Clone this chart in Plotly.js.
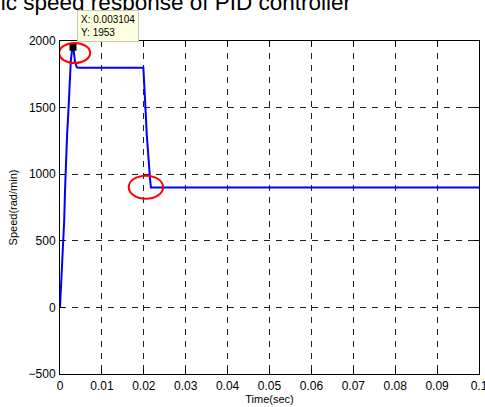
<!DOCTYPE html>
<html>
<head>
<meta charset="utf-8">
<script src="https://cdn.plot.ly/plotly-3.0.1.min.js"></script>
<style>html,body{margin:0;padding:0;background:#fff;}#chart{width:485px;height:407px;}</style>
</head>
<body>
<div id="chart"></div>
<script>
// Time (s) and speed (rad/min)
const timeSec = [0, 0.0002, 0.0004, 0.0006, 0.0008, 0.001, 0.0012, 0.0014, 0.0017, 0.002, 0.0023, 0.0026, 0.0029, 0.003104, 0.0033, 0.0036, 0.004, 0.0045,
                 0.0199, 0.0201, 0.0203, 0.0205, 0.0207, 0.0209, 0.0211, 0.0213, 0.0215, 0.0217, 0.1];
const speed   = [0, 130, 260, 350, 470, 650, 880, 1080, 1300, 1470, 1680, 1860, 1935, 1953, 1920, 1840, 1803, 1800,
                 1800, 1700, 1560, 1430, 1300, 1200, 1120, 1040, 960, 900, 900];
const tipX = [0.003104];
const tipY = [1953];
const xTicks = [0, 0.01, 0.02, 0.03, 0.04, 0.05, 0.06, 0.07, 0.08, 0.09, 0.1];
const xTickText = ['0', '0.01', '0.02', '0.03', '0.04', '0.05', '0.06', '0.07', '0.08', '0.09', '0.1'];
const yTicks = [-500, 0, 500, 1000, 1500, 2000];
const titleText = 'Dynamic speed response of PID controller';
const xTitle = 'Time(sec)';
const yTitle = 'Speed(rad/min)';
// highlighted regions (ellipses): [x0, x1, y0, y1]
const overshootRing = [-0.0002, 0.0072, 1835, 1985];
const settleRing = [0.0164, 0.0246, 816, 989];

const FONT = 'Liberation Sans, Arial, sans-serif';

const traces = [
  {x: timeSec, y: speed, type: 'scatter', mode: 'lines',
   line: {color: '#0000ff', width: 2}, hoverinfo: 'skip'},
  {x: tipX, y: tipY, type: 'scatter', mode: 'markers',
   marker: {symbol: 'square', size: 7, color: '#000000'}, hoverinfo: 'skip'}
];

const gridAxis = {
  showline: true, linecolor: '#000', linewidth: 1, mirror: 'ticks',
  ticks: 'inside', ticklen: 5, tickcolor: '#000', tickwidth: 1,
  showgrid: true, gridcolor: '#222', griddash: '6px,6px', gridwidth: 1,
  zeroline: false, tickfont: {family: FONT, size: 12, color: '#000'},
  ticklabeloverflow: 'allow'
};

const layout = {
  width: 485, height: 407,
  margin: {l: 60, r: 6, t: 41, b: 33},
  paper_bgcolor: '#fff', plot_bgcolor: '#fff',
  showlegend: false,
  title: {text: titleText, font: {family: FONT, size: 22.5, color: '#000'},
          xref: 'container', yref: 'container', x: 351/485, xanchor: 'right',
          y: 1 - 9.5/407, yanchor: 'bottom'},
  xaxis: Object.assign({}, gridAxis, {
    range: [0, 0.1], tickvals: xTicks, ticktext: xTickText, ticklabelstandoff: 1,
    title: {text: xTitle, font: {family: FONT, size: 11, color: '#000'}, standoff: 2}
  }),
  yaxis: Object.assign({}, gridAxis, {
    range: [-500, 2000], tickvals: yTicks, ticklabelstandoff: 1,
    title: {text: yTitle, font: {family: FONT, size: 11, color: '#000'}, standoff: 8}
  }),
  shapes: [
    {type: 'circle', xref: 'x', yref: 'y', x0: overshootRing[0], x1: overshootRing[1], y0: overshootRing[2], y1: overshootRing[3],
     line: {color: '#ff0000', width: 2}},
    {type: 'circle', xref: 'x', yref: 'y', x0: settleRing[0], x1: settleRing[1], y0: settleRing[2], y1: settleRing[3],
     line: {color: '#ff0000', width: 2}}
  ],
  annotations: [
    {x: tipX[0], y: tipY[0], xref: 'x', yref: 'y', showarrow: false,
     text: 'X: ' + tipX[0] + '<br>Y: ' + tipY[0], align: 'left',
     xanchor: 'left', yanchor: 'bottom', xshift: 4, yshift: 5,
     font: {family: FONT, size: 10, color: '#000'},
     bgcolor: '#ffffe1', bordercolor: '#c8c8b4', borderwidth: 1, borderpad: 3}
  ]
};

Plotly.newPlot('chart', traces, layout, {staticPlot: true, displayModeBar: false});
</script>
</body>
</html>
